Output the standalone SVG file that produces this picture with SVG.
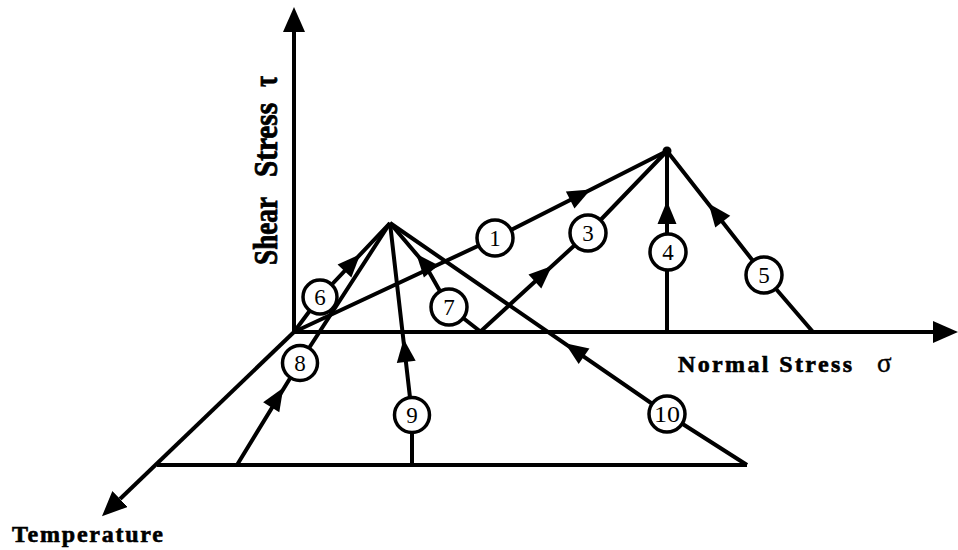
<svg xmlns="http://www.w3.org/2000/svg" xmlns:xlink="http://www.w3.org/1999/xlink" width="958" height="550" viewBox="0 0 958 550">
  <style>
    .ax { fill: none; stroke: #000; stroke-width: 4; }
    .ln { fill: none; stroke: #000; stroke-width: 4; stroke-linejoin: round; }
    .ah { fill: #000; }
    .nc { fill: #fff; stroke: #000; stroke-width: 3.5; }
    .nt { font-family: "Liberation Serif", "Times New Roman", serif; font-size: 23px; fill: #000; text-anchor: middle; }
    .lab { font-family: "Liberation Serif", "Times New Roman", serif; font-size: 24px; font-weight: bold; fill: #000; stroke: #000; stroke-width: 0.6; }
  </style>
  <defs>
    <marker id="axhead" markerUnits="userSpaceOnUse" markerWidth="25" markerHeight="22" refX="0" refY="11" orient="auto" viewBox="0 0 25 22">
      <path d="M0,0 L25,11 L0,22 Z" fill="#000"/>
    </marker>
    <path id="ah" d="M12,0 L-11,-9.5 L-11,9.5 Z"/>
  </defs>

  <rect x="0" y="0" width="958" height="550" fill="#fff"/>

  <!-- axes -->
  <g id="axes">
    <line class="ax" x1="294" y1="334" x2="294" y2="32" marker-end="url(#axhead)"/>
    <line class="ax" x1="292" y1="332" x2="933" y2="332" marker-end="url(#axhead)"/>
    <line class="ax" x1="294" y1="332" x2="120" y2="499" marker-end="url(#axhead)"/>
    <line class="ax" x1="157" y1="465" x2="747" y2="465"/>
  </g>

  <!-- connectors -->
  <g id="connectors">
    <polyline class="ln" points="294,332 495,238 667,151"/>
    <polyline class="ln" points="480,332 588,233 667,151"/>
    <polyline class="ln" points="667,332 667,151"/>
    <polyline class="ln" points="813,332 764,275 667,151"/>
    <polyline class="ln" points="294,332 320,297 390,223"/>
    <polyline class="ln" points="390,223 424,263 449,307 481,332"/>
    <polyline class="ln" points="237,465 300,362 390,223"/>
    <polyline class="ln" points="412,465 412,415 390,223"/>
    <polyline class="ln" points="390,223 667,414 747,465"/>
    <circle cx="667" cy="151" r="4.5" fill="#000"/>
    <use xlink:href="#ah" class="ah" transform="translate(580,195) rotate(-26.8)"/>
    <use xlink:href="#ah" class="ah" transform="translate(543,274) rotate(-42.5)"/>
    <use xlink:href="#ah" class="ah" transform="translate(667,213) rotate(-90)"/>
    <use xlink:href="#ah" class="ah" transform="translate(716,213) rotate(-128)"/>
    <use xlink:href="#ah" class="ah" transform="translate(352,263) rotate(-46.6)"/>
    <use xlink:href="#ah" class="ah" transform="translate(424,263) rotate(-130.4)"/>
    <use xlink:href="#ah" class="ah" transform="translate(277,398) rotate(-58.3)"/>
    <use xlink:href="#ah" class="ah" transform="translate(405,351) rotate(-96.5)"/>
    <use xlink:href="#ah" class="ah" transform="translate(575,350) rotate(-145.4)"/>
  </g>

  <!-- nodes -->
  <g id="node-1"><circle class="nc" cx="495" cy="238" r="18"/><text class="nt" x="495" y="246">1</text></g>
  <g id="node-3"><circle class="nc" cx="588" cy="233" r="18"/><text class="nt" x="588" y="241">3</text></g>
  <g id="node-4"><circle class="nc" cx="668" cy="252" r="18"/><text class="nt" x="668" y="260">4</text></g>
  <g id="node-5"><circle class="nc" cx="764" cy="275" r="18"/><text class="nt" x="764" y="283">5</text></g>
  <g id="node-6"><circle class="nc" cx="320" cy="297" r="17"/><text class="nt" x="320" y="305">6</text></g>
  <g id="node-7"><circle class="nc" cx="449" cy="307" r="18"/><text class="nt" x="449" y="315">7</text></g>
  <g id="node-8"><circle class="nc" cx="300" cy="363" r="17.5"/><text class="nt" x="300" y="371">8</text></g>
  <g id="node-9"><circle class="nc" cx="412" cy="415" r="17.5"/><text class="nt" x="412" y="423">9</text></g>
  <g id="node-10"><circle class="nc" cx="667" cy="414" r="18"/><text class="nt" x="667" y="422" textLength="26" lengthAdjust="spacingAndGlyphs">10</text></g>

  <!-- axis labels -->
  <g id="label-shear" transform="translate(277,265) rotate(-90) scale(1,1.4)">
    <text class="lab" x="0" y="0" textLength="68" lengthAdjust="spacingAndGlyphs">Shear</text>
    <text class="lab" x="88" y="0" textLength="74" lengthAdjust="spacingAndGlyphs">Stress</text>
    <text class="lab" x="178" y="0">τ</text>
  </g>
  <g id="label-normal">
    <text class="lab" x="678" y="372" textLength="174" lengthAdjust="spacing">Normal Stress</text>
    <text class="lab" x="877" y="372" style="font-weight:normal;font-size:27px;stroke-width:0.4">σ</text>
  </g>
  <g id="label-temperature">
    <text class="lab" x="12" y="542" textLength="151" lengthAdjust="spacing">Temperature</text>
  </g>
</svg>
